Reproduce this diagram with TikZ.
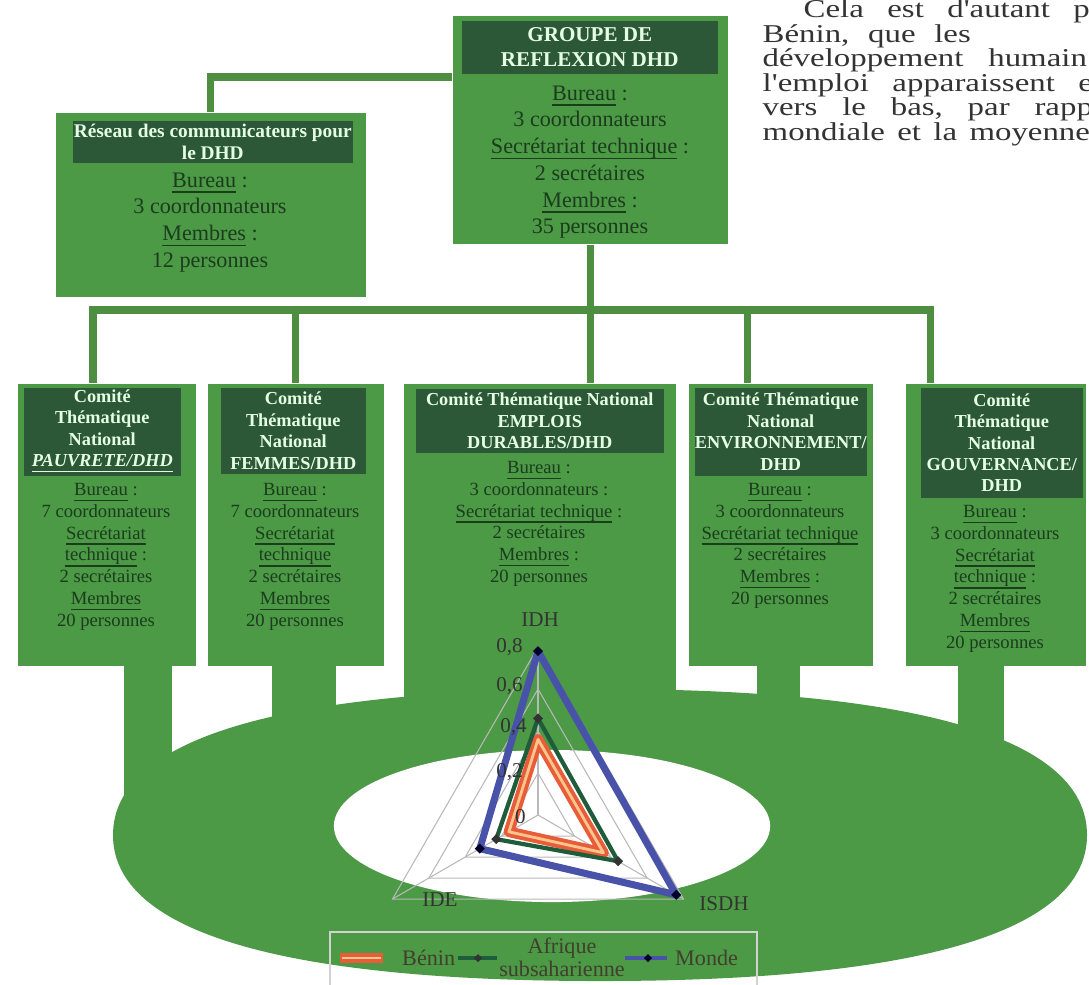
\documentclass[tikz,border=0pt]{standalone}
\usepackage{fontspec}
\setmainfont{Liberation Serif}
\newfontfamily\parafont[FakeStretch=1.28]{Liberation Serif}
\usetikzlibrary{calc}

\definecolor{orggreen}{RGB}{76,153,70}
\definecolor{headgreen}{RGB}{44,88,56}
\definecolor{txtgreen}{RGB}{28,60,30}
\definecolor{linkgreen}{RGB}{78,142,64}
\definecolor{beninred}{RGB}{232,92,58}
\definecolor{afriqgreen}{RGB}{30,92,58}
\definecolor{mondeblue}{RGB}{72,82,168}

\newcommand{\grphead}{\fontsize{6}{7}\selectfont\bfseries}
\newcommand{\grpbody}{\fontsize{6.3}{7.6}\selectfont}
\newcommand{\reshead}{\fontsize{5.5}{6.3}\selectfont\bfseries}
\newcommand{\comhead}{\fontsize{5.2}{6.1}\selectfont\bfseries}
\newcommand{\combody}{\fontsize{5.3}{6.2}\selectfont}
\newcommand{\uln}[1]{\underline{\smash{#1}}}

\begin{document}
\begin{tikzpicture}[x=0.01cm,y=-0.01cm,
  box/.style={fill=orggreen,inner sep=0pt,anchor=north west},
  head/.style={fill=headgreen,text=white!90!green,align=center,inner sep=0pt,anchor=north west},
  body/.style={text=txtgreen,align=center,inner sep=0pt,anchor=north},
  link/.style={draw=linkgreen,line width=2pt},
  grid/.style={draw=gray!55,line width=0.3pt},
  lbl/.style={text=black!80,font=\fontsize{6}{6}\selectfont,inner sep=1pt},
  leg/.style={text=black!70!olive,font=\fontsize{6.3}{6.6}\selectfont,inner sep=1pt},
  para/.style={text=black!80,font=\parafont\fontsize{7.3}{8}\selectfont,inner sep=0pt,anchor=base west}]
\useasboundingbox[fill=white] (0,0) rectangle (1089,984);

% texte courant a droite
\node[para] (p1) at (803,17) {\hbox to 2.86cm{Cela\hfill est\hfill d'autant\hfill p}};
\node[para] (p2) at (762,42) {\hbox to 2.08cm{Bénin,\hfill que\hfill les}};
\node[para] (p3) at (762,66) {\hbox to 3.24cm{développement\hfill humain}};
\node[para] (p4) at (762,91) {\hbox to 3.3cm{l'emploi\hfill apparaissent\hfill e}};
\node[para] (p5) at (762,115) {\hbox to 3.3cm{vers\hfill le\hfill bas,\hfill par\hfill rapp}};
\node[para] (p6) at (762,140) {\hbox to 3.27cm{mondiale\hfill et\hfill la\hfill moyenne}};

% anneau
\fill[orggreen] (113,835) .. controls (113,739) and (279,689) .. (600,689)
  .. controls (921,689) and (1087,739) .. (1087,835)
  .. controls (1087,931) and (921,981) .. (600,981)
  .. controls (279,981) and (113,931) .. (113,835) -- cycle;
\fill[orggreen] (124,650) rectangle (172,795);
\fill[orggreen] (272,650) rectangle (336,760);
\fill[orggreen] (757,650) rectangle (800,760);
\fill[orggreen] (958,650) rectangle (1004,795);

% groupe de reflexion
\node[box,minimum width=2.75cm,minimum height=2.28cm] (groupe) at (452,15) {};
\node[head,minimum width=2.56cm,minimum height=0.53cm,font=\grphead] (groupeT) at (461,20) {GROUPE DE\\REFLEXION DHD};
\node[body,font=\grpbody] (groupeB) at (590,89) {\uln{Bureau} :\\3 coordonnateurs\\\uln{Secrétariat technique} :\\2 secrétaires\\\uln{Membres} :\\35 personnes};

% reseau
\node[box,minimum width=3.1cm,minimum height=1.84cm] (reseau) at (55,112) {};
\node[head,minimum width=2.8cm,minimum height=0.42cm,font=\reshead] (reseauT) at (72,120) {Réseau des communicateurs pour\\le DHD};
\node[body,font=\grpbody] (reseauB) at (210,176) {\uln{Bureau} :\\3 coordonnateurs\\\uln{Membres} :\\12 personnes};

% comites
\node[box,minimum width=1.78cm,minimum height=2.82cm] (comite1) at (17,383) {};
\node[head,minimum width=1.57cm,minimum height=0.88cm,font=\comhead] (comite1T) at (23,387) {Comité\\Thématique\\National\\\uln{\textit{PAUVRETE/DHD}}};
\node[body,font=\combody] (comite1B) at (106,486) {\uln{Bureau} :\\7 coordonnateurs\\\uln{Secrétariat}\\\uln{technique} :\\2 secrétaires\\\uln{Membres}\\20 personnes};

\node[box,minimum width=1.76cm,minimum height=2.82cm] (comite2) at (207,383) {};
\node[head,minimum width=1.45cm,minimum height=0.86cm,font=\comhead] (comite2T) at (220,387) {Comité\\Thématique\\National\\FEMMES/DHD};
\node[body,font=\combody] (comite2B) at (295,486) {\uln{Bureau} :\\7 coordonnateurs\\\uln{Secrétariat}\\\uln{technique}\\2 secrétaires\\\uln{Membres}\\20 personnes};

\node[box,minimum width=2.72cm,minimum height=3.3cm] (comite3) at (403,383) {};
\node[head,minimum width=2.48cm,minimum height=0.64cm,font=\comhead] (comite3T) at (415,388) {Comité Thématique National\\EMPLOIS\\DURABLES/DHD};
\node[body,font=\combody] (comite3B) at (539,464) {\uln{Bureau} :\\3 coordonnateurs :\\\uln{Secrétariat technique} :\\2 secrétaires\\\uln{Membres} :\\20 personnes};

\node[box,minimum width=1.84cm,minimum height=2.82cm] (comite4) at (688,383) {};
\node[head,minimum width=1.72cm,minimum height=0.88cm,font=\comhead] (comite4T) at (694,387) {Comité Thématique\\National\\ENVIRONNEMENT/\\DHD};
\node[body,font=\combody] (comite4B) at (780,486) {\uln{Bureau} :\\3 coordonnateurs\\\uln{Secrétariat technique}\\2 secrétaires\\\uln{Membres} :\\20 personnes};

\node[box,minimum width=1.8cm,minimum height=2.82cm] (comite5) at (905,383) {};
\node[head,minimum width=1.62cm,minimum height=1.1cm,font=\comhead] (comite5T) at (920,387) {Comité\\Thématique\\National\\GOUVERNANCE/\\DHD};
\node[body,font=\combody] (comite5B) at (995,508) {\uln{Bureau} :\\3 coordonnateurs\\\uln{Secrétariat}\\\uln{technique} :\\2 secrétaires\\\uln{Membres}\\20 personnes};

% liaisons
\coordinate (barL) at (93,310);
\coordinate (barR) at (930,310);
\coordinate (drop4) at (747,310);
\draw[link] (reseau.north) |- ($(groupe.north west)+(0,62)$);
\draw[link] (groupe.south) -- (groupe.south |- comite3.north);
\draw[link] (barL |- comite1.north) -- (barL) -- (barR) -- (barR |- comite5.north);
\draw[link] (comite2.north) -- (comite2.north |- barL);
\draw[link] (drop4) -- (drop4 |- comite4.north);

% radar
\fill[white] (552,826) ellipse [x radius=2.18cm, y radius=0.76cm];
\coordinate (c) at (538,815);
\foreach \v in {0.2,0.4,0.6,0.8}
  \draw[grid] ($(c)+(-90:{210*\v})$) -- ($(c)+(30:{210*\v})$) -- ($(c)+(150:{210*\v})$) -- cycle;
\foreach \a in {-90,30,150}
  \draw[grid] (c) -- ++(\a:168);
\draw[beninred,line width=3pt,line join=round] ($(c)+(-90:{210*0.36})$) -- ($(c)+(30:{210*0.36})$) -- ($(c)+(150:{210*0.16})$) -- cycle;
\draw[orange!45!white,line width=0.8pt,line join=round] ($(c)+(-90:{210*0.36})$) -- ($(c)+(30:{210*0.36})$) -- ($(c)+(150:{210*0.16})$) -- cycle;
\draw[afriqgreen,line width=1.2pt,line join=round] ($(c)+(-90:{210*0.46})$) -- ($(c)+(30:{210*0.44})$) -- ($(c)+(150:{210*0.23})$) -- cycle;
\foreach \a/\v in {-90/0.46,30/0.44,150/0.23}
  \fill[black!80] ($(c)+(\a:{210*\v})$) +(-5,0) -- +(0,-5) -- +(5,0) -- +(0,5) -- cycle;
\draw[mondeblue,line width=2pt,line join=round] ($(c)+(-90:{210*0.78})$) -- ($(c)+(30:{210*0.76})$) -- ($(c)+(150:{210*0.32})$) -- cycle;
\foreach \a/\v in {-90/0.78,30/0.76,150/0.32}
  \fill[black!85!blue] ($(c)+(\a:{210*\v})$) +(-5,0) -- +(0,-5) -- +(5,0) -- +(0,5) -- cycle;

\node[lbl] (lIDH) at (540,620) {IDH};
\node[lbl] (lIDE) at (440,900) {IDE};
\node[lbl] (lISDH) at (724,904) {ISDH};
\node[lbl,anchor=east] (v8) at (527,647) {0,8};
\node[lbl,anchor=east] (v6) at (527,686) {0,6};
\node[lbl,anchor=east] (v4) at (531,727) {0,4};
\node[lbl,anchor=east] (v2) at (527,772) {0,2};
\node[lbl,anchor=east] (v0) at (530,817) {0};

% legende
\draw[gray!35,line width=0.4pt] (330,932) rectangle (757,1000);
\draw[beninred,line width=3pt] (340,958) -- (383,958);
\draw[orange!45!white,line width=0.8pt] (342,958) -- (381,958);
\node[leg,anchor=west] (legBenin) at (398,958) {Bénin};
\draw[afriqgreen,line width=1pt] (458,958) -- (497,958);
\fill[black!80] (478,958) +(-4,0) -- +(0,-4) -- +(4,0) -- +(0,4) -- cycle;
\node[leg,align=center] (legAfrique) at (562,957) {Afrique\\subsaharienne};
\draw[mondeblue,line width=1pt] (625,958) -- (667,958);
\fill[black!85!blue] (648,958) +(-4,0) -- +(0,-4) -- +(4,0) -- +(0,4) -- cycle;
\node[leg,anchor=west] (legMonde) at (671,958) {Monde};
\end{tikzpicture}
\end{document}
